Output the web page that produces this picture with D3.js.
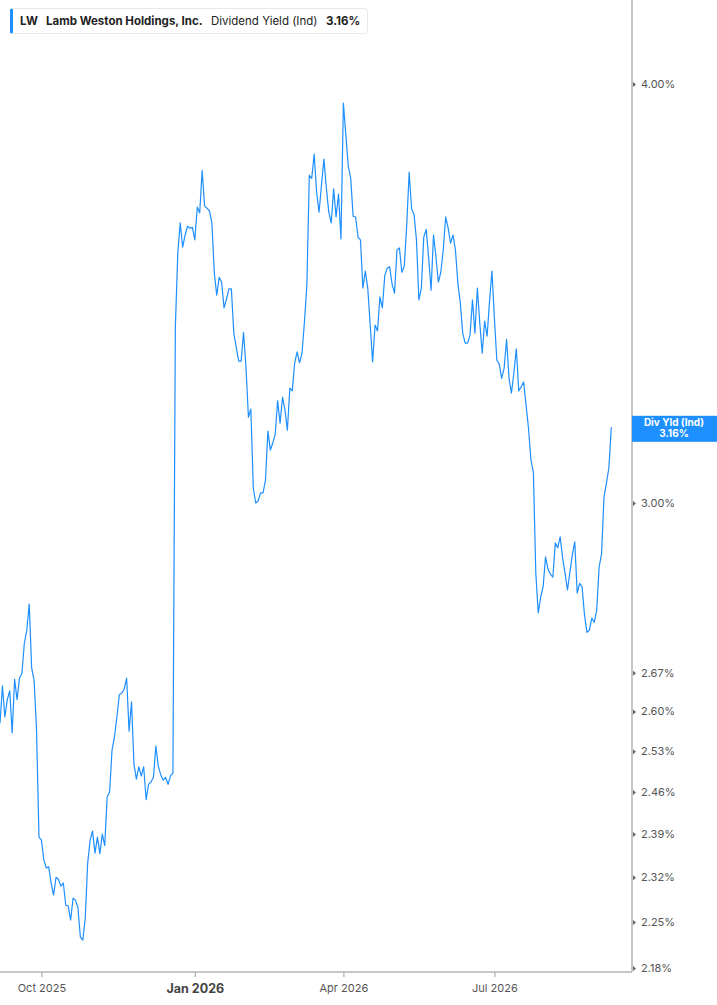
<!DOCTYPE html>
<html>
<head>
<meta charset="utf-8">
<script src="https://cdn.jsdelivr.net/npm/d3@7"></script>
<style>
  html, body { margin: 0; padding: 0; background: #fff; }
  svg { display: block; font-family: Inter, "Noto Sans", sans-serif; }
</style>
</head>
<body>
<div id="chart"></div>
<script>
// Header / legend texts
const ticker = "LW";
const companyName = "Lamb Weston Holdings, Inc.";
const seriesName = "Dividend Yield (Ind)";
const badgeName = "Div Yld (Ind)";

// Dividend yield (%), one value per trading day.
const yieldValues = [
  2.579, 2.646, 2.590, 2.621, 2.637, 2.562, 2.658, 2.621, 2.660, 2.669,
  2.725, 2.749, 2.799, 2.679, 2.656, 2.567, 2.385, 2.380, 2.348, 2.335,
  2.337, 2.311, 2.292, 2.320, 2.317, 2.306, 2.311, 2.276, 2.275, 2.253,
  2.287, 2.284, 2.272, 2.227, 2.222, 2.256, 2.343, 2.380, 2.395, 2.359,
  2.385, 2.358, 2.390, 2.371, 2.452, 2.460, 2.532, 2.555, 2.590, 2.630,
  2.633, 2.640, 2.660, 2.565, 2.617, 2.508, 2.482, 2.503, 2.487, 2.503,
  2.447, 2.473, 2.477, 2.485, 2.539, 2.504, 2.489, 2.480, 2.485, 2.473,
  2.487, 2.492, 3.385, 3.562, 3.636, 3.576, 3.606, 3.628, 3.623, 3.625,
  3.594, 3.676, 3.661, 3.770, 3.679, 3.673, 3.666, 3.636, 3.513, 3.460,
  3.503, 3.491, 3.430, 3.451, 3.475, 3.475, 3.371, 3.339, 3.307, 3.307,
  3.373, 3.293, 3.182, 3.200, 3.031, 3.000, 3.004, 3.021, 3.021, 3.047,
  3.152, 3.111, 3.126, 3.145, 3.218, 3.169, 3.226, 3.198, 3.154, 3.246,
  3.240, 3.303, 3.328, 3.303, 3.325, 3.397, 3.484, 3.757, 3.749, 3.812,
  3.714, 3.663, 3.732, 3.799, 3.724, 3.663, 3.636, 3.722, 3.651, 3.709,
  3.596, 3.948, 3.862, 3.781, 3.749, 3.653, 3.651, 3.601, 3.594, 3.477,
  3.518, 3.477, 3.390, 3.305, 3.390, 3.376, 3.456, 3.430, 3.508, 3.525,
  3.528, 3.486, 3.465, 3.569, 3.574, 3.515, 3.530, 3.630, 3.765, 3.671,
  3.658, 3.594, 3.449, 3.477, 3.601, 3.620, 3.550, 3.472, 3.606, 3.552,
  3.491, 3.515, 3.569, 3.651, 3.623, 3.586, 3.606, 3.569, 3.489, 3.442,
  3.371, 3.348, 3.348, 3.367, 3.449, 3.371, 3.477, 3.394, 3.325, 3.399,
  3.364, 3.446, 3.518, 3.406, 3.309, 3.300, 3.268, 3.291, 3.357, 3.268,
  3.235, 3.280, 3.335, 3.240, 3.249, 3.260, 3.209, 3.158, 3.090, 3.064,
  2.859, 2.782, 2.812, 2.832, 2.891, 2.867, 2.857, 2.851, 2.919, 2.909,
  2.931, 2.889, 2.859, 2.826, 2.861, 2.895, 2.921, 2.820, 2.839, 2.832,
  2.778, 2.745, 2.749, 2.772, 2.764, 2.787, 2.871, 2.897, 3.012, 3.041,
  3.073, 3.160
];

// X ticks: trading-day index where each quarter starts
const xTickIdx = [17, 80, 141, 203];
const xTickLabels = ["Oct 2025", "Jan 2026", "Apr 2026", "Jul 2026"];

// Y ticks (%)
const yTickValues = [2.18, 2.25, 2.32, 2.39, 2.46, 2.53, 2.60, 2.67, 3.00, 4.00];

// Figure
const width = 717;
const height = 1005;
const plotRight = 632;
const plotBottom = 972;
const lineColor = "#1e8fff";

const svg = d3.create("svg")
    .attr("viewBox", [0, 0, width, height])
    .attr("width", width)
    .attr("height", height);

// X values (trading days)
const x = d3.scaleLinear()
    .domain([0, yieldValues.length - 1])
    .range([0, 611.3]);

// Y values (log scale)
const y = d3.scaleLog()
    .domain([2.18, 4.00])
    .range([968, 84]);

// Line
const line = d3.line()
    .x((d, i) => x(i))
    .y(d => y(d));
svg.append("path")
    .datum(yieldValues)
    .attr("fill", "none")
    .attr("stroke", lineColor)
    .attr("stroke-width", 1.2)
    .attr("stroke-linejoin", "round")
    .attr("d", line);

// X-axis
const xAxis = svg.append("g")
    .attr("transform", `translate(0,${plotBottom})`)
    .call(d3.axisBottom(x)
      .tickValues(xTickIdx)
      .tickFormat((d, i) => xTickLabels[i])
      .tickSize(5)
      .tickPadding(7));
xAxis.select(".domain").remove();
xAxis.selectAll(".tick line").attr("stroke", "#aaa").attr("stroke-width", 1.2);
xAxis.selectAll(".tick text")
    .attr("fill", "#555")
    .attr("font-size", "11px")
    .attr("font-family", "Inter, sans-serif");
// Jan label is emphasised (year start)
xAxis.selectAll(".tick text")
    .filter((d, i) => xTickLabels[i].startsWith("Jan"))
    .attr("font-weight", "bold")
    .attr("font-size", "12.5px")
    .attr("fill", "#444");

// Y-axis on the right
const yAxis = svg.append("g")
    .attr("transform", `translate(${plotRight},0)`)
    .call(d3.axisRight(y)
      .tickValues(yTickValues)
      .tickFormat(d => d3.format(".2f")(d) + "%")
      .tickSize(0)
      .tickPadding(9));
yAxis.select(".domain").remove();
yAxis.selectAll(".tick text")
    .attr("fill", "#555")
    .attr("font-size", "11px")
    .attr("font-family", "Inter, sans-serif");
yAxis.selectAll(".tick")
    .append("path")
    .attr("d", "M1,-2.5L4,0L1,2.5Z")
    .attr("fill", "#666");

// Axis frame lines
svg.append("line")
    .attr("x1", 0).attr("x2", plotRight)
    .attr("y1", plotBottom).attr("y2", plotBottom)
    .attr("stroke", "#b3b3b3")
    .attr("stroke-width", 1.5);
svg.append("line")
    .attr("x1", plotRight).attr("x2", plotRight)
    .attr("y1", 0).attr("y2", plotBottom)
    .attr("stroke", "#b3b3b3")
    .attr("stroke-width", 1.5);

// Last value badge on the axis
const last = yieldValues[yieldValues.length - 1];
const lastText = d3.format(".2f")(last) + "%";
const badgeY = y(last);
svg.append("rect")
    .attr("x", plotRight)
    .attr("y", badgeY - 11.5)
    .attr("width", width - plotRight)
    .attr("height", 26)
    .attr("fill", lineColor);
svg.append("text")
    .attr("x", 674)
    .attr("y", badgeY - 1.5)
    .attr("text-anchor", "middle")
    .attr("fill", "#fff")
    .attr("font-size", "10px")
    .attr("font-weight", "bold")
    .text(badgeName);
svg.append("text")
    .attr("x", 674)
    .attr("y", badgeY + 10)
    .attr("text-anchor", "middle")
    .attr("fill", "#fff")
    .attr("font-size", "10px")
    .attr("font-weight", "bold")
    .text(lastText);

// Legend box
const legend = svg.append("g");
legend.append("rect")
    .attr("x", 10.5).attr("y", 8.5)
    .attr("width", 357).attr("height", 25)
    .attr("rx", 3)
    .attr("fill", "#fff")
    .attr("stroke", "#e8e8e8");
legend.append("rect")
    .attr("x", 10).attr("y", 8.5)
    .attr("width", 3).attr("height", 25)
    .attr("rx", 1.5)
    .attr("fill", lineColor);
const legendItems = [
  { text: ticker, x: 20, bold: true },
  { text: companyName, x: 46, bold: true },
  { text: seriesName, x: 211, bold: false },
  { text: lastText, x: 326, bold: true }
];
legend.selectAll("text.item")
    .data(legendItems)
    .join("text")
    .attr("class", "item")
    .attr("x", d => d.x)
    .attr("y", 25)
    .attr("fill", "#222")
    .attr("font-size", "11.5px")
    .attr("font-weight", d => d.bold ? "bold" : "normal")
    .text(d => d.text);

document.getElementById("chart").appendChild(svg.node());
</script>
</body>
</html>
